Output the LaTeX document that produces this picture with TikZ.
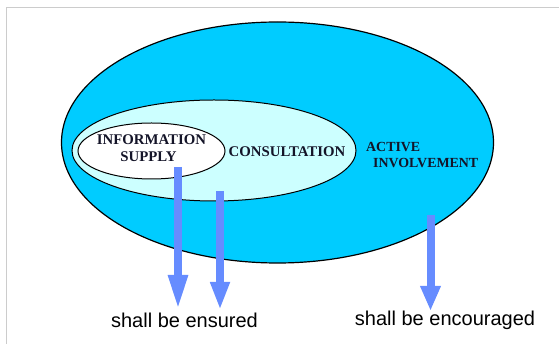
\documentclass[tikz,border=0pt]{standalone}
\usepackage{fontspec}
\setmainfont{Liberation Serif}
\setsansfont{Liberation Sans}
\usetikzlibrary{arrows.meta}
\definecolor{outerfill}{RGB}{0,204,255}
\definecolor{midfill}{RGB}{204,255,255}
\definecolor{arrowblue}{RGB}{102,140,255}
\definecolor{framegray}{RGB}{204,204,204}
\definecolor{labeltext}{RGB}{20,20,40}
\tikzset{
  zone/.style={draw=black, line width=1.2pt},
  zonelabel/.style={font=\bfseries\fontsize{14.8}{15}\selectfont, text=labeltext, inner sep=0pt, anchor=center},
  smalllabel/.style={zonelabel, font=\bfseries\fontsize{13.9}{14}\selectfont, anchor=west},
  bluearrow/.style={draw=arrowblue, line width=8pt},
  bottomtext/.style={font=\sffamily\fontsize{20}{21}\selectfont, text=black, inner sep=0pt, anchor=center}
}
\begin{document}
\begin{tikzpicture}[x=1pt,y=-1pt]
\useasboundingbox (0,0) rectangle (559,344);
% frame
\draw[framegray, line width=1pt] (6.5,344) -- (6.5,8) -- (559,8);
% ellipses
\draw[zone, fill=outerfill] (277.5,142.5) ellipse [x radius=216, y radius=120.5];
\draw[zone, fill=midfill, line width=1pt] (214,150.5) ellipse [x radius=142, y radius=50.5];
\draw[zone, fill=white, line width=1pt] (151.5,151) ellipse [x radius=73.5, y radius=28];
% labels
\node[zonelabel] (info1) at (151.5,140) {INFORMATION};
\node[zonelabel] (info2) at (148.5,157) {SUPPLY};
\node[zonelabel] (cons) at (287,152) {CONSULTATION};
\node[smalllabel] (act1) at (366,147) {ACTIVE};
\node[smalllabel] (act2) at (373,163) {INVOLVEMENT};
% arrow anchors
\coordinate (a1s) at (178,167);
\coordinate (a1e) at (178,310);
\coordinate (a2s) at (220,191);
\coordinate (a2e) at (220,310);
\coordinate (a3s) at (430.5,215);
\coordinate (a3e) at (430.5,311);
\draw[bluearrow, -{Triangle[length=35pt, width=18pt]}] (a1s) -- (a1e);
\draw[bluearrow, -{Triangle[length=28pt, width=18pt]}] (a2s) -- (a2e);
\draw[bluearrow, -{Triangle[length=25pt, width=19pt]}] (a3s) -- (a3e);
% bottom texts
\node[bottomtext] (ensured) at (184.5,320) {shall be ensured};
\node[bottomtext] (encour) at (445,320) {shall be encouraged};
\end{tikzpicture}
\end{document}
